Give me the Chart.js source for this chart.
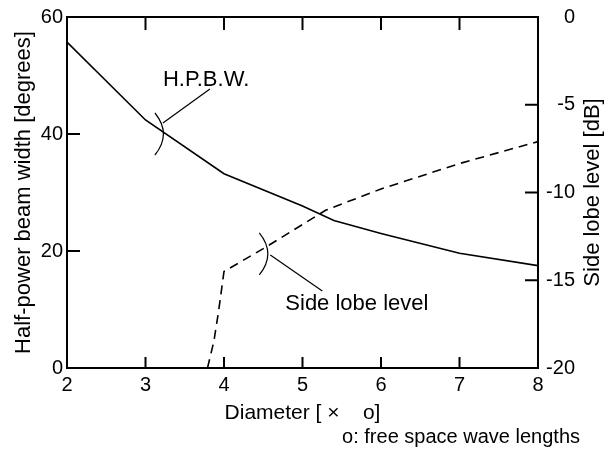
<!DOCTYPE html>
<html>
<head>
<meta charset="utf-8">
<script src="https://cdn.jsdelivr.net/npm/chart.js@4.4.0/dist/chart.umd.min.js"></script>
<style>
  html, body { margin: 0; padding: 0; background: #fff; }
</style>
</head>
<body>
<canvas id="chart" width="609" height="454"></canvas>
<script>
// Half-power beam width (left axis)
const hpbwDiameter = [2, 3, 4, 5, 5.4, 6, 7, 8];
const hpbwDegrees = [55.7, 42.4, 33.2, 27.7, 25.2, 23.0, 19.6, 17.5];

// Side lobe level (right axis)
const sllDiameter = [3.79, 3.87, 3.93, 4.0, 4.5, 5.3, 6.0, 7.0, 8.0];
const sllDb = [-20, -18.5, -16.8, -14.5, -13.2, -11.0, -9.8, -8.35, -7.1];

// tick values
const xTicks = [2, 3, 4, 5, 6, 7, 8];
const leftTicks = [0, 20, 40, 60];
const rightTicks = [-20, -15, -10, -5, 0];

const FONT = "'Liberation Sans', Arial, sans-serif";

let toPoints = (xs, ys) => xs.map((x, i) => ({x: x, y: ys[i]}));
let fixedTicks = (values) => (scale) => { scale.ticks = values.map(v => ({value: v})); };

// callout labels, anchored on data coordinates
const callouts = [
  {text: 'H.P.B.W.', x: 3.12, y: 40.0, axis: 'y', lead: [8, -11, 55, -45], label: [8, -48]},
  {text: 'Side lobe level', x: 4.45, y: -13.5, axis: 'y2', lead: [11, 1, 63, 37], label: [26, 56]}
];

const framePlugin = {
    id: 'frame',
    afterDatasetsDraw(chart) {
        const {ctx, chartArea: a, scales} = chart;
        ctx.save();
        ctx.strokeStyle = '#000';
        ctx.fillStyle = '#000';

        // box
        ctx.lineWidth = 2;
        ctx.strokeRect(a.left, a.top, a.right - a.left, a.bottom - a.top);

        // inward ticks on all four sides
        ctx.beginPath();
        xTicks.forEach(v => {
            const px = scales.x.getPixelForValue(v);
            ctx.moveTo(px, a.bottom); ctx.lineTo(px, a.bottom - 11);
            ctx.moveTo(px, a.top); ctx.lineTo(px, a.top + 13);
        });
        leftTicks.forEach(v => {
            const py = scales.y.getPixelForValue(v);
            ctx.moveTo(a.left, py); ctx.lineTo(a.left + 13, py);
        });
        rightTicks.forEach(v => {
            const py = scales.y2.getPixelForValue(v);
            ctx.moveTo(a.right, py); ctx.lineTo(a.right - 13, py);
        });
        ctx.stroke();

        // callouts: bracket + leader + text
        ctx.lineWidth = 1.2;
        ctx.font = '22px ' + FONT;
        ctx.textAlign = 'left';
        ctx.textBaseline = 'alphabetic';
        callouts.forEach(c => {
            const px = scales.x.getPixelForValue(c.x);
            const py = scales[c.axis].getPixelForValue(c.y);
            ctx.beginPath();
            ctx.moveTo(px, py - 21);
            ctx.quadraticCurveTo(px + 17, py, px, py + 21);
            ctx.moveTo(px + c.lead[0], py + c.lead[1]);
            ctx.lineTo(px + c.lead[2], py + c.lead[3]);
            ctx.stroke();
            ctx.fillText(c.text, px + c.label[0], py + c.label[1]);
        });

        // right axis title, reading upward
        ctx.save();
        ctx.font = '22px ' + FONT;
        ctx.textAlign = 'center';
        ctx.textBaseline = 'middle';
        ctx.translate(593, (a.top + a.bottom) / 2);
        ctx.rotate(-Math.PI / 2);
        ctx.fillText('Side lobe level [dB]', 0, 0);
        ctx.restore();

        // footnote
        ctx.font = '20px ' + FONT;
        ctx.textAlign = 'right';
        ctx.fillText('o: free space wave lengths', 580, 443);
        ctx.restore();
    }
};

let tickFont = {family: FONT, size: 20};

new Chart(document.getElementById('chart'), {
    type: 'line',
    data: {
        datasets: [{
            label: 'H.P.B.W.',
            data: toPoints(hpbwDiameter, hpbwDegrees),
            yAxisID: 'y',
            borderColor: '#000',
            borderWidth: 1.6,
            pointRadius: 0,
            tension: 0,
            fill: false
        }, {
            label: 'Side lobe level',
            data: toPoints(sllDiameter, sllDb),
            yAxisID: 'y2',
            borderColor: '#000',
            borderWidth: 1.6,
            borderDash: [9, 6],
            pointRadius: 0,
            tension: 0,
            fill: false
        }]
    },
    options: {
        responsive: false,
        animation: false,
        layout: {padding: {top: 16, left: 0, right: 34, bottom: 0}},
        plugins: {
            legend: {display: false},
            tooltip: {enabled: false}
        },
        scales: {
            x: {
                type: 'linear',
                position: 'bottom',
                min: 2,
                max: 8,
                afterBuildTicks: fixedTicks(xTicks),
                afterFit: (s) => { s.height = 86; },
                grid: {display: false, drawTicks: false},
                border: {display: false},
                ticks: {color: '#000', font: tickFont, padding: 5},
                title: {
                    display: true,
                    text: 'Diameter [ ×    o]',
                    color: '#000',
                    font: {family: FONT, size: 21},
                    padding: {top: 0, bottom: 28}
                }
            },
            y: {
                type: 'linear',
                position: 'left',
                min: 0,
                max: 60,
                afterBuildTicks: fixedTicks(leftTicks),
                afterFit: (s) => { s.width = 67; },
                grid: {display: false, drawTicks: false},
                border: {display: false},
                ticks: {color: '#000', font: tickFont, padding: 4},
                title: {
                    display: true,
                    text: 'Half-power beam width [degrees]',
                    color: '#000',
                    font: {family: FONT, size: 22},
                    padding: {top: 11, bottom: 0}
                }
            },
            y2: {
                type: 'linear',
                position: 'right',
                min: -20,
                max: 0,
                afterBuildTicks: fixedTicks(rightTicks),
                afterFit: (s) => { s.width = 37; },
                grid: {display: false, drawTicks: false},
                border: {display: false},
                ticks: {color: '#000', font: tickFont, padding: 5, crossAlign: 'far'}
            }
        }
    },
    plugins: [framePlugin]
});
</script>
</body>
</html>
